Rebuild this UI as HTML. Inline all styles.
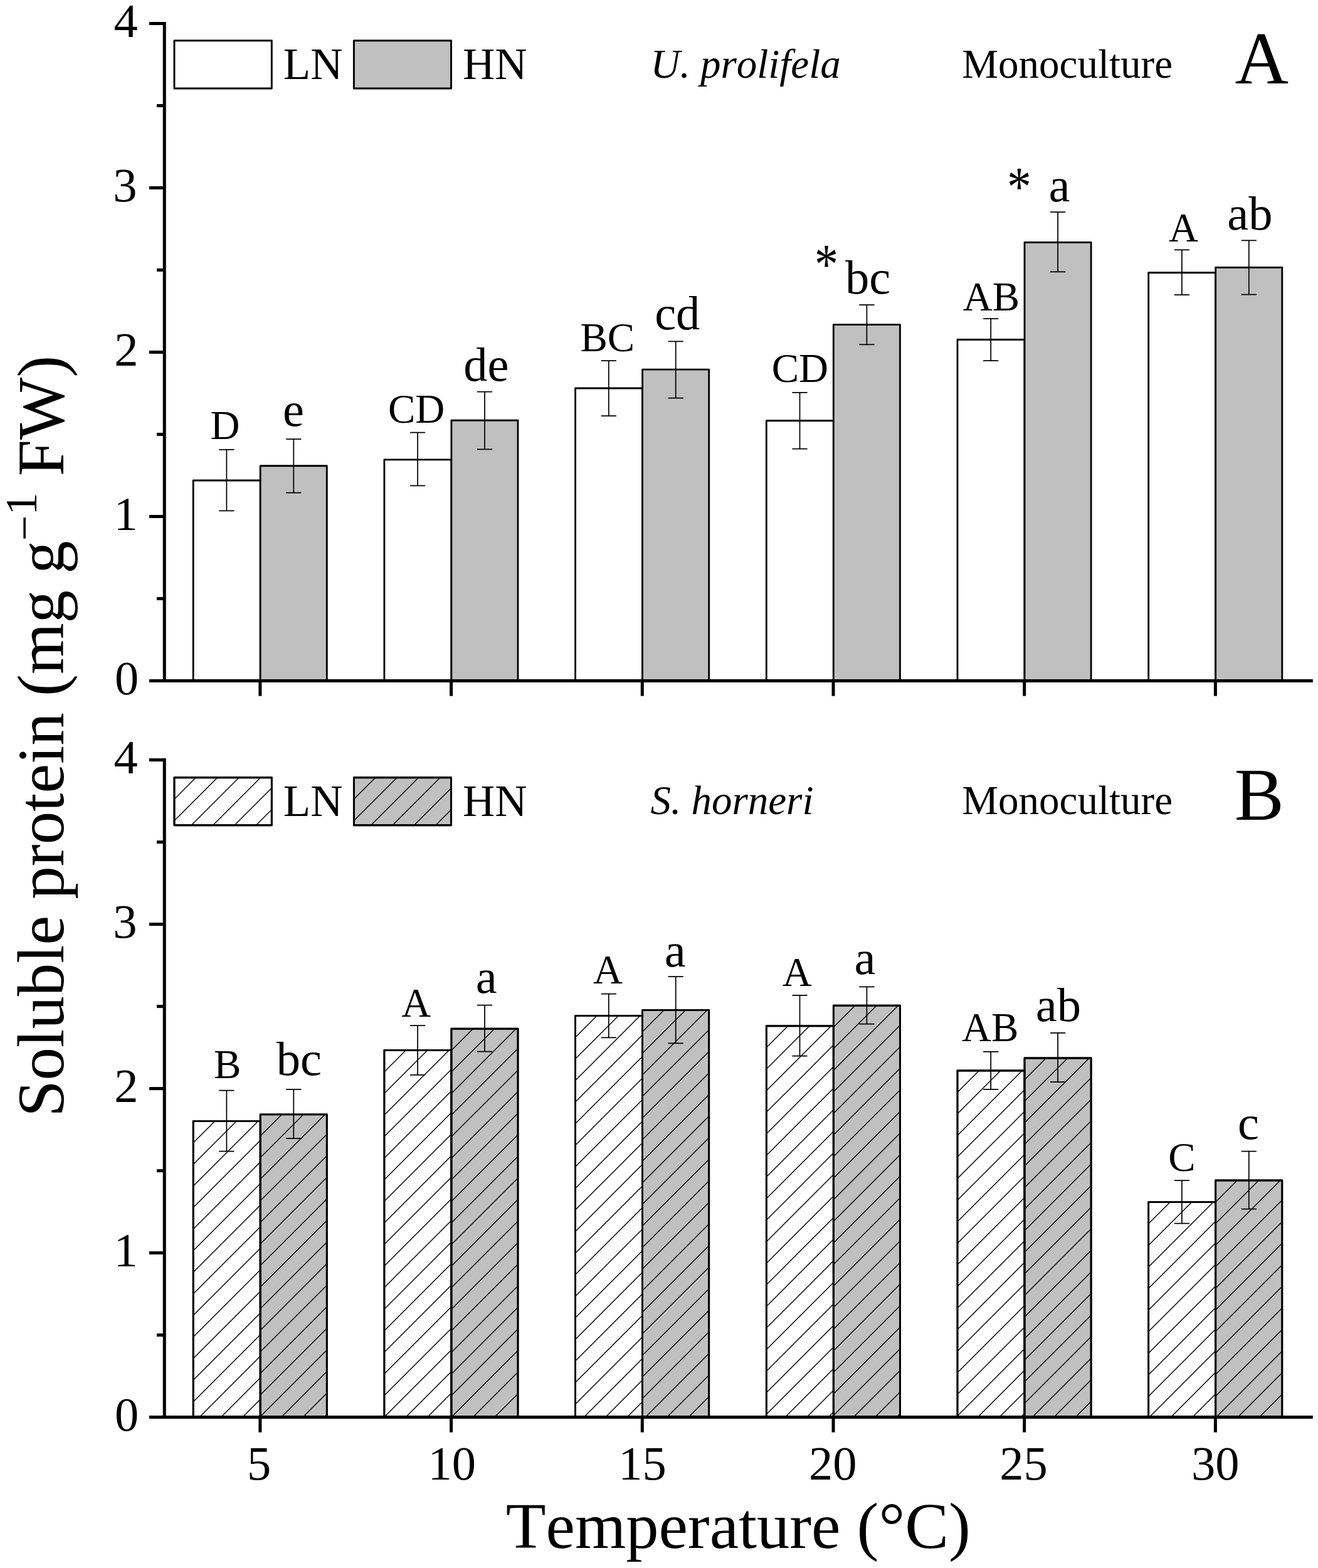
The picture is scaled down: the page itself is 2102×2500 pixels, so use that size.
<!DOCTYPE html>
<html lang="en"><head><meta charset="utf-8"><title>Soluble protein vs temperature</title>
<style>
html,body{margin:0;padding:0;background:#fff;}
body{width:2102px;height:2500px;overflow:hidden;}
svg{display:block;}
text{font-family:"Liberation Serif","DejaVu Serif",serif;fill:#000;font-kerning:none;font-variant-ligatures:none;}
.i{font-style:italic;}
</style></head><body>
<svg width="2102" height="2500" viewBox="0 0 2102 2500">
<rect x="0" y="0" width="2102" height="2500" fill="#fff"/>
<g stroke="#000" stroke-width="2.8" stroke-linejoin="round">
<rect x="308.2" y="766" width="107" height="319.4" fill="#fff"/>
<rect x="415.2" y="742.75" width="106.1" height="342.65" fill="#c0c0c0"/>
<rect x="612.9" y="732.8" width="107" height="352.6" fill="#fff"/>
<rect x="719.9" y="670.25" width="106.1" height="415.15" fill="#c0c0c0"/>
<rect x="917.6" y="619" width="107" height="466.4" fill="#fff"/>
<rect x="1024.6" y="589.2" width="106.1" height="496.2" fill="#c0c0c0"/>
<rect x="1222.3" y="670.75" width="107" height="414.65" fill="#fff"/>
<rect x="1329.3" y="517.7" width="106.1" height="567.7" fill="#c0c0c0"/>
<rect x="1527" y="541.5" width="107" height="543.9" fill="#fff"/>
<rect x="1634" y="386.5" width="106.1" height="698.9" fill="#c0c0c0"/>
<rect x="1831.7" y="434.75" width="107" height="650.65" fill="#fff"/>
<rect x="1938.7" y="426.5" width="106.1" height="658.9" fill="#c0c0c0"/>
</g>
<g stroke="#000" stroke-width="2.9" stroke-linejoin="round">
<rect x="278" y="64.75" width="155.3" height="76.25" fill="#fff"/>
<rect x="564.4" y="64.75" width="155.1" height="76.25" fill="#c0c0c0"/>
</g>
<g stroke="#000" stroke-width="1.75" fill="none">
<path d="M349.3,716.75H373.5M361.4,716.75V814.25M349.3,814.25H373.5"/>
<path d="M456.2,700H480.4M468.3,700V785.5M456.2,785.5H480.4"/>
<path d="M654,689.5H678.2M666.1,689.5V774.25M654,774.25H678.2"/>
<path d="M760.9,624.5H785.1M773,624.5V716.25M760.9,716.25H785.1"/>
<path d="M958.7,575H982.9M970.8,575V663M958.7,663H982.9"/>
<path d="M1065.6,544.25H1089.8M1077.7,544.25V634.5M1065.6,634.5H1089.8"/>
<path d="M1263.4,625.75H1287.6M1275.5,625.75V715.5M1263.4,715.5H1287.6"/>
<path d="M1370.3,486H1394.5M1382.4,486V549.4M1370.3,549.4H1394.5"/>
<path d="M1568.1,508H1592.3M1580.2,508V575M1568.1,575H1592.3"/>
<path d="M1675,338H1699.2M1687.1,338V433.25M1675,433.25H1699.2"/>
<path d="M1872.8,398.25H1897M1884.9,398.25V470M1872.8,470H1897"/>
<path d="M1979.7,383.25H2003.9M1991.8,383.25V469.5M1979.7,469.5H2003.9"/>
</g>
<g stroke="#000" stroke-width="5" fill="none">
<path d="M262.25,35V1087.9"/>
<path d="M238,1085.4H2093.8"/>
<path d="M250,954.5H262.25"/>
<path d="M238,823.5H262.25"/>
<path d="M250,692.5H262.25"/>
<path d="M238,561.5H262.25"/>
<path d="M250,430.5H262.25"/>
<path d="M238,299.5H262.25"/>
<path d="M250,168.5H262.25"/>
<path d="M238,37.5H262.25"/>
<path d="M414.9,1085.4V1109.7"/>
<path d="M719.6,1085.4V1109.7"/>
<path d="M1024.3,1085.4V1109.7"/>
<path d="M1329,1085.4V1109.7"/>
<path d="M1633.7,1085.4V1109.7"/>
<path d="M1938.4,1085.4V1109.7"/>
</g>
<g font-size="76.5">
<text x="182.88" y="1107.1">0</text>
<text x="181.44" y="845.1">1</text>
<text x="182.18" y="583.1">2</text>
<text x="180.29" y="321.1">3</text>
<text x="181.6" y="59.1">4</text>
</g>
<text x="451.85" y="126.25" font-size="71">LN</text>
<text x="737.89" y="126.25" font-size="71">HN</text>
<text class="i" x="1037.45" y="123.75" font-size="65">U. prolifela</text>
<text x="1969.57" y="133" font-size="118.5">A</text>
<text x="1534.31" y="123.75" font-size="65">Monoculture</text>
<g stroke="#000" stroke-width="2.8" stroke-linejoin="round">
<rect x="308.2" y="1787.7" width="107" height="471.7" fill="#fff"/>
<rect x="415.2" y="1776.9" width="106.1" height="482.5" fill="#c0c0c0"/>
<rect x="612.9" y="1674.5" width="107" height="584.9" fill="#fff"/>
<rect x="719.9" y="1640.25" width="106.1" height="619.15" fill="#c0c0c0"/>
<rect x="917.6" y="1619.5" width="107" height="639.9" fill="#fff"/>
<rect x="1024.6" y="1610.5" width="106.1" height="648.9" fill="#c0c0c0"/>
<rect x="1222.3" y="1635.75" width="107" height="623.65" fill="#fff"/>
<rect x="1329.3" y="1603.25" width="106.1" height="656.15" fill="#c0c0c0"/>
<rect x="1527" y="1707" width="107" height="552.4" fill="#fff"/>
<rect x="1634" y="1687" width="106.1" height="572.4" fill="#c0c0c0"/>
<rect x="1831.7" y="1916.7" width="107" height="342.7" fill="#fff"/>
<rect x="1938.7" y="1882" width="106.1" height="377.4" fill="#c0c0c0"/>
</g>
<g stroke="#000" stroke-width="2.9" stroke-linejoin="round">
<rect x="278" y="1239.75" width="155.3" height="76" fill="#fff"/>
<rect x="564.4" y="1239.75" width="155.1" height="76" fill="#c0c0c0"/>
</g>
<path d="M308.2,1822.1L342.6,1787.7M308.2,1856.5L377,1787.7M308.2,1890.9L411.4,1787.7M308.2,1925.3L415.2,1818.3M308.2,1959.7L415.2,1852.7M308.2,1994.1L415.2,1887.1M308.2,2028.5L415.2,1921.5M308.2,2062.9L415.2,1955.9M308.2,2097.3L415.2,1990.3M308.2,2131.7L415.2,2024.7M308.2,2166.1L415.2,2059.1M308.2,2200.5L415.2,2093.5M308.2,2234.9L415.2,2127.9M318.1,2259.4L415.2,2162.3M352.5,2259.4L415.2,2196.7M386.9,2259.4L415.2,2231.1M415.2,1811.3L449.6,1776.9M415.2,1845.7L484,1776.9M415.2,1880.1L518.4,1776.9M415.2,1914.5L521.3,1808.4M415.2,1948.9L521.3,1842.8M415.2,1983.3L521.3,1877.2M415.2,2017.7L521.3,1911.6M415.2,2052.1L521.3,1946M415.2,2086.5L521.3,1980.4M415.2,2120.9L521.3,2014.8M415.2,2155.3L521.3,2049.2M415.2,2189.7L521.3,2083.6M415.2,2224.1L521.3,2118M415.2,2258.5L521.3,2152.4M448.7,2259.4L521.3,2186.8M483.1,2259.4L521.3,2221.2M517.5,2259.4L521.3,2255.6M612.9,1708.9L647.3,1674.5M612.9,1743.3L681.7,1674.5M612.9,1777.7L716.1,1674.5M612.9,1812.1L719.9,1705.1M612.9,1846.5L719.9,1739.5M612.9,1880.9L719.9,1773.9M612.9,1915.3L719.9,1808.3M612.9,1949.7L719.9,1842.7M612.9,1984.1L719.9,1877.1M612.9,2018.5L719.9,1911.5M612.9,2052.9L719.9,1945.9M612.9,2087.3L719.9,1980.3M612.9,2121.7L719.9,2014.7M612.9,2156.1L719.9,2049.1M612.9,2190.5L719.9,2083.5M612.9,2224.9L719.9,2117.9M612.9,2259.3L719.9,2152.3M647.2,2259.4L719.9,2186.7M681.6,2259.4L719.9,2221.1M716,2259.4L719.9,2255.5M719.9,1674.65L754.3,1640.25M719.9,1709.05L788.7,1640.25M719.9,1743.45L823.1,1640.25M719.9,1777.85L826,1671.75M719.9,1812.25L826,1706.15M719.9,1846.65L826,1740.55M719.9,1881.05L826,1774.95M719.9,1915.45L826,1809.35M719.9,1949.85L826,1843.75M719.9,1984.25L826,1878.15M719.9,2018.65L826,1912.55M719.9,2053.05L826,1946.95M719.9,2087.45L826,1981.35M719.9,2121.85L826,2015.75M719.9,2156.25L826,2050.15M719.9,2190.65L826,2084.55M719.9,2225.05L826,2118.95M719.95,2259.4L826,2153.35M754.35,2259.4L826,2187.75M788.75,2259.4L826,2222.15M823.15,2259.4L826,2256.55M917.6,1653.9L952,1619.5M917.6,1688.3L986.4,1619.5M917.6,1722.7L1020.8,1619.5M917.6,1757.1L1024.6,1650.1M917.6,1791.5L1024.6,1684.5M917.6,1825.9L1024.6,1718.9M917.6,1860.3L1024.6,1753.3M917.6,1894.7L1024.6,1787.7M917.6,1929.1L1024.6,1822.1M917.6,1963.5L1024.6,1856.5M917.6,1997.9L1024.6,1890.9M917.6,2032.3L1024.6,1925.3M917.6,2066.7L1024.6,1959.7M917.6,2101.1L1024.6,1994.1M917.6,2135.5L1024.6,2028.5M917.6,2169.9L1024.6,2062.9M917.6,2204.3L1024.6,2097.3M917.6,2238.7L1024.6,2131.7M931.3,2259.4L1024.6,2166.1M965.7,2259.4L1024.6,2200.5M1000.1,2259.4L1024.6,2234.9M1024.6,1644.9L1059,1610.5M1024.6,1679.3L1093.4,1610.5M1024.6,1713.7L1127.8,1610.5M1024.6,1748.1L1130.7,1642M1024.6,1782.5L1130.7,1676.4M1024.6,1816.9L1130.7,1710.8M1024.6,1851.3L1130.7,1745.2M1024.6,1885.7L1130.7,1779.6M1024.6,1920.1L1130.7,1814M1024.6,1954.5L1130.7,1848.4M1024.6,1988.9L1130.7,1882.8M1024.6,2023.3L1130.7,1917.2M1024.6,2057.7L1130.7,1951.6M1024.6,2092.1L1130.7,1986M1024.6,2126.5L1130.7,2020.4M1024.6,2160.9L1130.7,2054.8M1024.6,2195.3L1130.7,2089.2M1024.6,2229.7L1130.7,2123.6M1029.3,2259.4L1130.7,2158M1063.7,2259.4L1130.7,2192.4M1098.1,2259.4L1130.7,2226.8M1222.3,1670.15L1256.7,1635.75M1222.3,1704.55L1291.1,1635.75M1222.3,1738.95L1325.5,1635.75M1222.3,1773.35L1329.3,1666.35M1222.3,1807.75L1329.3,1700.75M1222.3,1842.15L1329.3,1735.15M1222.3,1876.55L1329.3,1769.55M1222.3,1910.95L1329.3,1803.95M1222.3,1945.35L1329.3,1838.35M1222.3,1979.75L1329.3,1872.75M1222.3,2014.15L1329.3,1907.15M1222.3,2048.55L1329.3,1941.55M1222.3,2082.95L1329.3,1975.95M1222.3,2117.35L1329.3,2010.35M1222.3,2151.75L1329.3,2044.75M1222.3,2186.15L1329.3,2079.15M1222.3,2220.55L1329.3,2113.55M1222.3,2254.95L1329.3,2147.95M1252.25,2259.4L1329.3,2182.35M1286.65,2259.4L1329.3,2216.75M1321.05,2259.4L1329.3,2251.15M1329.3,1637.65L1363.7,1603.25M1329.3,1672.05L1398.1,1603.25M1329.3,1706.45L1432.5,1603.25M1329.3,1740.85L1435.4,1634.75M1329.3,1775.25L1435.4,1669.15M1329.3,1809.65L1435.4,1703.55M1329.3,1844.05L1435.4,1737.95M1329.3,1878.45L1435.4,1772.35M1329.3,1912.85L1435.4,1806.75M1329.3,1947.25L1435.4,1841.15M1329.3,1981.65L1435.4,1875.55M1329.3,2016.05L1435.4,1909.95M1329.3,2050.45L1435.4,1944.35M1329.3,2084.85L1435.4,1978.75M1329.3,2119.25L1435.4,2013.15M1329.3,2153.65L1435.4,2047.55M1329.3,2188.05L1435.4,2081.95M1329.3,2222.45L1435.4,2116.35M1329.3,2256.85L1435.4,2150.75M1361.15,2259.4L1435.4,2185.15M1395.55,2259.4L1435.4,2219.55M1429.95,2259.4L1435.4,2253.95M1527,1741.4L1561.4,1707M1527,1775.8L1595.8,1707M1527,1810.2L1630.2,1707M1527,1844.6L1634,1737.6M1527,1879L1634,1772M1527,1913.4L1634,1806.4M1527,1947.8L1634,1840.8M1527,1982.2L1634,1875.2M1527,2016.6L1634,1909.6M1527,2051L1634,1944M1527,2085.4L1634,1978.4M1527,2119.8L1634,2012.8M1527,2154.2L1634,2047.2M1527,2188.6L1634,2081.6M1527,2223L1634,2116M1527,2257.4L1634,2150.4M1559.4,2259.4L1634,2184.8M1593.8,2259.4L1634,2219.2M1628.2,2259.4L1634,2253.6M1634,1721.4L1668.4,1687M1634,1755.8L1702.8,1687M1634,1790.2L1737.2,1687M1634,1824.6L1740.1,1718.5M1634,1859L1740.1,1752.9M1634,1893.4L1740.1,1787.3M1634,1927.8L1740.1,1821.7M1634,1962.2L1740.1,1856.1M1634,1996.6L1740.1,1890.5M1634,2031L1740.1,1924.9M1634,2065.4L1740.1,1959.3M1634,2099.8L1740.1,1993.7M1634,2134.2L1740.1,2028.1M1634,2168.6L1740.1,2062.5M1634,2203L1740.1,2096.9M1634,2237.4L1740.1,2131.3M1646.4,2259.4L1740.1,2165.7M1680.8,2259.4L1740.1,2200.1M1715.2,2259.4L1740.1,2234.5M1831.7,1951.1L1866.1,1916.7M1831.7,1985.5L1900.5,1916.7M1831.7,2019.9L1934.9,1916.7M1831.7,2054.3L1938.7,1947.3M1831.7,2088.7L1938.7,1981.7M1831.7,2123.1L1938.7,2016.1M1831.7,2157.5L1938.7,2050.5M1831.7,2191.9L1938.7,2084.9M1831.7,2226.3L1938.7,2119.3M1833,2259.4L1938.7,2153.7M1867.4,2259.4L1938.7,2188.1M1901.8,2259.4L1938.7,2222.5M1936.2,2259.4L1938.7,2256.9M1938.7,1916.4L1973.1,1882M1938.7,1950.8L2007.5,1882M1938.7,1985.2L2041.9,1882M1938.7,2019.6L2044.8,1913.5M1938.7,2054L2044.8,1947.9M1938.7,2088.4L2044.8,1982.3M1938.7,2122.8L2044.8,2016.7M1938.7,2157.2L2044.8,2051.1M1938.7,2191.6L2044.8,2085.5M1938.7,2226L2044.8,2119.9M1939.7,2259.4L2044.8,2154.3M1974.1,2259.4L2044.8,2188.7M2008.5,2259.4L2044.8,2223.1M2042.9,2259.4L2044.8,2257.5M278,1274.15L312.4,1239.75M278,1308.55L346.8,1239.75M305.2,1315.75L381.2,1239.75M339.6,1315.75L415.6,1239.75M374,1315.75L433.3,1256.45M408.4,1315.75L433.3,1290.85M564.4,1274.15L598.8,1239.75M564.4,1308.55L633.2,1239.75M591.6,1315.75L667.6,1239.75M626,1315.75L702,1239.75M660.4,1315.75L719.5,1256.65M694.8,1315.75L719.5,1291.05" stroke="#000" stroke-width="1.4" fill="none"/>
<g stroke="#000" stroke-width="2.8" stroke-linejoin="round" fill="none">
<rect x="308.2" y="1787.7" width="107" height="471.7"/>
<rect x="415.2" y="1776.9" width="106.1" height="482.5"/>
<rect x="612.9" y="1674.5" width="107" height="584.9"/>
<rect x="719.9" y="1640.25" width="106.1" height="619.15"/>
<rect x="917.6" y="1619.5" width="107" height="639.9"/>
<rect x="1024.6" y="1610.5" width="106.1" height="648.9"/>
<rect x="1222.3" y="1635.75" width="107" height="623.65"/>
<rect x="1329.3" y="1603.25" width="106.1" height="656.15"/>
<rect x="1527" y="1707" width="107" height="552.4"/>
<rect x="1634" y="1687" width="106.1" height="572.4"/>
<rect x="1831.7" y="1916.7" width="107" height="342.7"/>
<rect x="1938.7" y="1882" width="106.1" height="377.4"/>
<rect x="278" y="1239.75" width="155.3" height="76"/>
<rect x="564.4" y="1239.75" width="155.1" height="76"/>
</g>
<g stroke="#000" stroke-width="1.75" fill="none">
<path d="M349.3,1738.7H373.5M361.4,1738.7V1835.6M349.3,1835.6H373.5"/>
<path d="M456.2,1736.8H480.4M468.3,1736.8V1815.2M456.2,1815.2H480.4"/>
<path d="M654,1635H678.2M666.1,1635V1713.75M654,1713.75H678.2"/>
<path d="M760.9,1602.5H785.1M773,1602.5V1676.5M760.9,1676.5H785.1"/>
<path d="M958.7,1584.5H982.9M970.8,1584.5V1654.25M958.7,1654.25H982.9"/>
<path d="M1065.6,1557H1089.8M1077.7,1557V1663.25M1065.6,1663.25H1089.8"/>
<path d="M1263.4,1586.75H1287.6M1275.5,1586.75V1683.5M1263.4,1683.5H1287.6"/>
<path d="M1370.3,1573.25H1394.5M1382.4,1573.25V1632.5M1370.3,1632.5H1394.5"/>
<path d="M1568.1,1676.75H1592.3M1580.2,1676.75V1736.75M1568.1,1736.75H1592.3"/>
<path d="M1675,1646.75H1699.2M1687.1,1646.75V1725M1675,1725H1699.2"/>
<path d="M1872.8,1882H1897M1884.9,1882V1950.5M1872.8,1950.5H1897"/>
<path d="M1979.7,1835.5H2003.9M1991.8,1835.5V1927.5M1979.7,1927.5H2003.9"/>
</g>
<g stroke="#000" stroke-width="5" fill="none">
<path d="M262.25,1209.1V2261.9"/>
<path d="M238,2259.4H2093.8"/>
<path d="M250,2128.6H262.25"/>
<path d="M238,1997.6H262.25"/>
<path d="M250,1866.6H262.25"/>
<path d="M238,1735.6H262.25"/>
<path d="M250,1604.6H262.25"/>
<path d="M238,1473.6H262.25"/>
<path d="M250,1342.6H262.25"/>
<path d="M238,1211.6H262.25"/>
<path d="M414.9,2259.4V2283.7"/>
<path d="M719.6,2259.4V2283.7"/>
<path d="M1024.3,2259.4V2283.7"/>
<path d="M1329,2259.4V2283.7"/>
<path d="M1633.7,2259.4V2283.7"/>
<path d="M1938.4,2259.4V2283.7"/>
</g>
<g font-size="76.5">
<text x="182.88" y="2281.2">0</text>
<text x="181.44" y="2019.2">1</text>
<text x="182.18" y="1757.2">2</text>
<text x="180.29" y="1495.2">3</text>
<text x="181.6" y="1233.2">4</text>
</g>
<text x="451.85" y="1300.75" font-size="71">LN</text>
<text x="737.89" y="1300.75" font-size="71">HN</text>
<text class="i" x="1037.48" y="1298" font-size="65">S. horneri</text>
<text x="1968.67" y="1307.15" font-size="118.5">B</text>
<text x="1534.31" y="1298" font-size="65">Monoculture</text>
<text x="335.39" y="700.37" font-size="65">D</text>
<text x="451.1" y="679.25" font-size="76.5">e</text>
<text x="618.95" y="674.37" font-size="65">CD</text>
<text x="739.22" y="606.75" font-size="76.5">de</text>
<text x="925.38" y="560.37" font-size="65">BC</text>
<text x="1044.16" y="525" font-size="76.5">cd</text>
<text x="1230.7" y="608.87" font-size="65">CD</text>
<text x="1347.97" y="467.75" font-size="76.5">bc</text>
<text x="1535.87" y="494.81" font-size="65">AB</text>
<text x="1672.4" y="320.5" font-size="76.5">a</text>
<text x="1864.08" y="384.5" font-size="65">A</text>
<text x="1957.26" y="366.25" font-size="76.5">ab</text>
<text x="340.97" y="1718.81" font-size="65">B</text>
<text x="440.87" y="1714.05" font-size="76.5">bc</text>
<text x="640.2" y="1621.25" font-size="65">A</text>
<text x="758.83" y="1582.5" font-size="76.5">a</text>
<text x="945.95" y="1567.5" font-size="65">A</text>
<text x="1059.7" y="1540.5" font-size="76.5">a</text>
<text x="1247.7" y="1572" font-size="65">A</text>
<text x="1362.58" y="1553" font-size="76.5">a</text>
<text x="1534.12" y="1660.31" font-size="65">AB</text>
<text x="1651.76" y="1627.5" font-size="76.5">ab</text>
<text x="1863.28" y="1867.37" font-size="65">C</text>
<text x="1973.99" y="1815.5" font-size="76.5">c</text>
<text transform="translate(1318.1,409.45) scale(0.9918,1.1871)" x="-19.16" y="36.06" font-size="76.5">*</text>
<text transform="translate(1625.38,285) scale(1.0128,1.1585)" x="-19.16" y="36.06" font-size="76.5">*</text>
<g font-size="76.5">
<text x="393.9" y="2358.5">5</text>
<text x="682.59" y="2358.5">10</text>
<text x="986.13" y="2358.5">15</text>
<text x="1290.03" y="2358.5">20</text>
<text x="1594.19" y="2358.5">25</text>
<text x="1899.88" y="2358.5">30</text>
</g>
<text x="806.73" y="2468" font-size="104.5">Temperature (°C)</text>
<text transform="translate(100.5,1780.8) rotate(-90)" font-size="105">Soluble protein (mg g<tspan font-size="72" dy="-37.9">−</tspan><tspan font-size="72" dy="-4.6">1</tspan><tspan dy="42.5"> FW)</tspan></text>
</svg>
</body></html>
